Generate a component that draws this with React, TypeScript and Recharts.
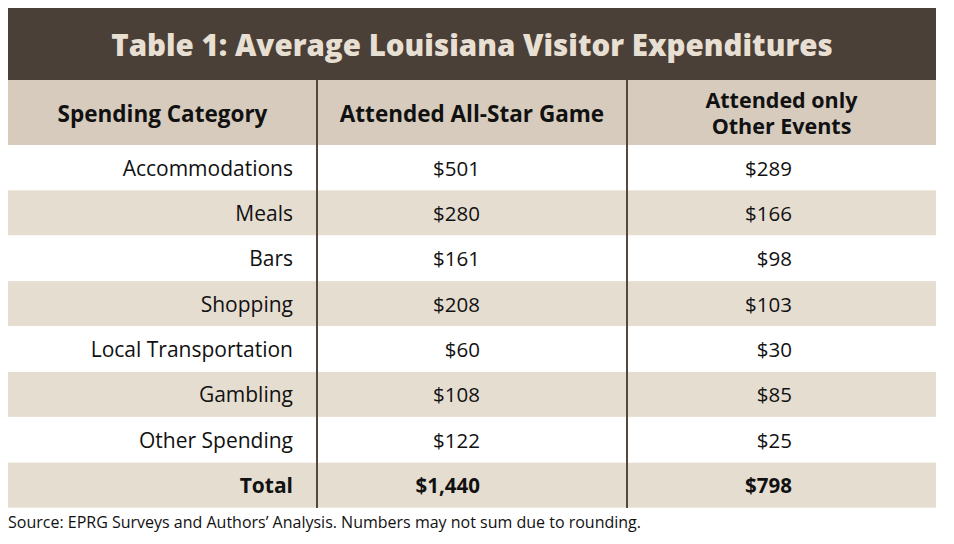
import { BarChart, Bar, XAxis, YAxis, LabelList, Customized } from "recharts";

const categories = [
  "Accommodations",
  "Meals",
  "Bars",
  "Shopping",
  "Local Transportation",
  "Gambling",
  "Other Spending",
  "Total"
];
const allStarGame = [501, 280, 161, 208, 60, 108, 122, 1440];
const otherEventsOnly = [289, 166, 98, 103, 30, 85, 25, 798];

const title = "Table 1: Average Louisiana Visitor Expenditures";
const headers = ["Spending Category", "Attended All-Star Game", "Attended only|Other Events"];
const source = "Source: EPRG Surveys and Authors\u2019 Analysis. Numbers may not sum due to rounding.";

const data = categories.map((category, i) => ({
  category,
  allStar: allStarGame[i],
  other: otherEventsOnly[i]
}));

const W = 928;
const H = 536;
const FONT = "'Open Sans', 'Noto Sans', sans-serif";
const DARK = "#4a4037";
const HEADER_BG = "#d6cbbd";
const ALT_BG = "#e6ddd1";
const DIVIDERS = [309, 619];

const money = (v: number) => "$" + v.toLocaleString("en-US");

// row text, placed on each band's centre from the bar geometry
function RowCells(props: any) {
  const { y, height, index } = props;
  const row = data[index];
  if (!row) return null;
  const cy = y + height / 2 + 8;
  const bold = row.category === "Total";
  const common = {
    fontFamily: FONT,
    fontWeight: bold ? 700 : 400,
    fill: "#111",
    textAnchor: "end" as const
  };
  return (
    <g>
      <text x={285} y={cy} fontSize={21} {...common}>{row.category}</text>
      <text x={472} y={cy} fontSize={20.5} {...common}>{money(row.allStar)}</text>
      <text x={784} y={cy} fontSize={20.5} {...common}>{money(row.other)}</text>
    </g>
  );
}

function RowBackground(props: any) {
  const { x, y, width, height, index, payload } = props;
  const i = index ?? categories.indexOf(payload?.category);
  return <rect x={x} y={y} width={width} height={height} fill={i % 2 === 1 ? ALT_BG : "#ffffff"} />;
}

function TableFrame() {
  const headerText = {
    fontFamily: FONT,
    fontWeight: 700,
    fill: "#111",
    textAnchor: "middle" as const
  };
  const [h1, h2, h3] = headers;
  const [h3a, h3b] = h3.split("|");
  return (
    <g>
      <rect x={0} y={0} width={W} height={72} fill={DARK} />
      <text
        x={464}
        y={48}
        textAnchor="middle"
        fontFamily={FONT}
        fontSize={29.5}
        fontWeight={800}
        fill="#e8dfd3"
      >
        {title}
      </text>
      <rect x={0} y={72} width={W} height={65} fill={HEADER_BG} />
      <text x={154.5} y={113.5} fontSize={22.5} {...headerText}>{h1}</text>
      <text x={464} y={113.5} fontSize={22.5} {...headerText}>{h2}</text>
      <text x={773.5} y={100} fontSize={21.5} {...headerText}>
        <tspan x={773.5} y={100}>{h3a}</tspan>
        <tspan x={773.5} y={125.5}>{h3b}</tspan>
      </text>
      {DIVIDERS.map((x) => (
        <line key={x} x1={x} x2={x} y1={72} y2={500} stroke="#52483f" strokeWidth={2} />
      ))}
      <text x={0} y={520} fontFamily={FONT} fontSize={16} fill="#111">
        {source}
      </text>
    </g>
  );
}

export default function App() {
  return (
    <div style={{ width: W, height: H }}>
      <BarChart
        width={W}
        height={H}
        data={data}
        layout="vertical"
        margin={{ top: 137, right: 0, bottom: 36, left: 0 }}
        barCategoryGap={0}
      >
        <XAxis type="number" hide domain={[0, 2000]} />
        <YAxis type="category" dataKey="category" hide />
        <Bar
          dataKey="allStar"
          fill="none"
          background={<RowBackground />}
          isAnimationActive={false}
        >
          <LabelList dataKey="allStar" content={<RowCells />} />
        </Bar>
        <Customized component={TableFrame} />
      </BarChart>
    </div>
  );
}
